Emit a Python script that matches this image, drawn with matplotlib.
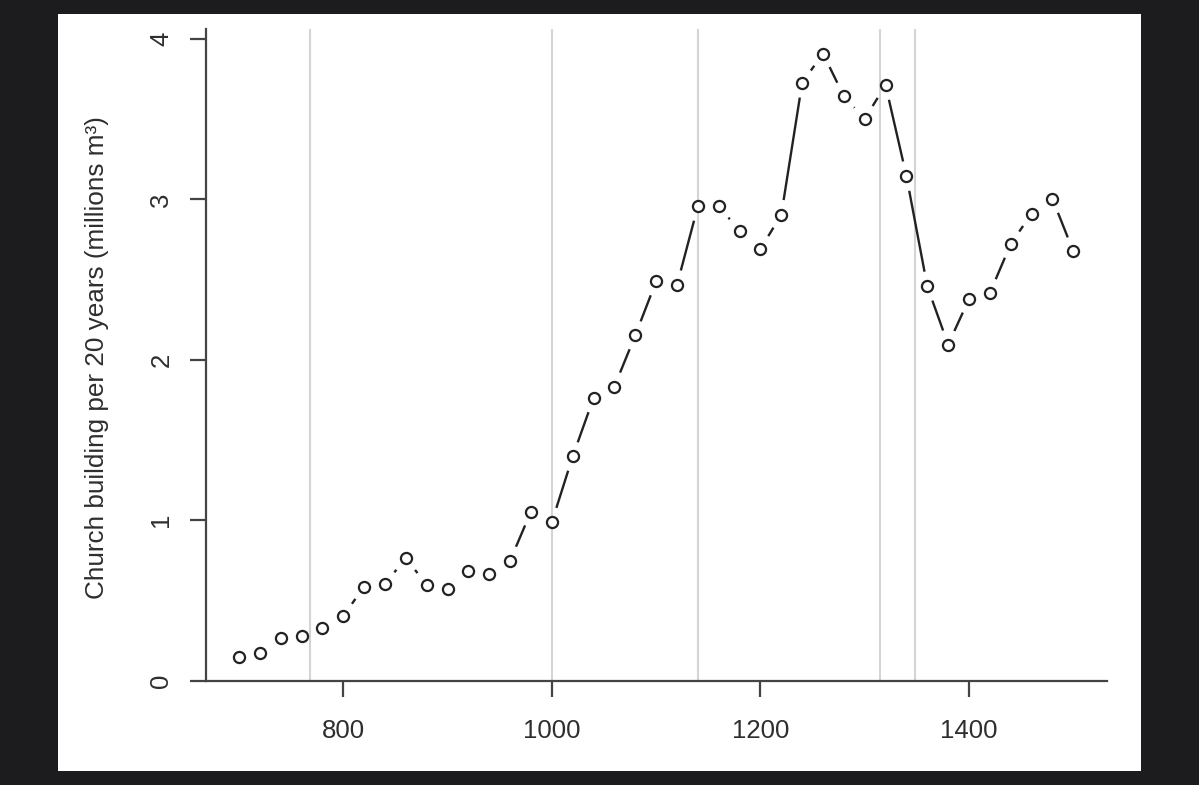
import matplotlib
matplotlib.use("Agg")
import matplotlib.pyplot as plt
from matplotlib.patches import Rectangle
import numpy as np

years = list(range(700, 1501, 20))
volume = [0.145, 0.173, 0.263, 0.278, 0.326, 0.402, 0.585, 0.602, 0.763, 0.596,
          0.571, 0.685, 0.665, 0.748, 1.053, 0.987, 1.397, 1.761, 1.833, 2.152,
          2.489, 2.466, 2.957, 2.957, 2.805, 2.691, 2.903, 3.727, 3.909, 3.643,
          3.502, 3.712, 3.145, 2.457, 2.094, 2.379, 2.416, 2.722, 2.911, 3.003,
          2.676]
event_years = [768, 1000, 1140, 1315, 1348]
x_ticks = [800, 1000, 1200, 1400]
y_ticks = [0, 1, 2, 3, 4]
y_label = "Church building per 20 years (millions m³)"

W, H = 1199, 785
plt.rcParams['font.family'] = ['Liberation Sans', 'DejaVu Sans']
fig = plt.figure(figsize=(W / 100, H / 100), dpi=100, facecolor='#1c1c1e')
fig.patches.append(Rectangle((58 / W, 1 - 771 / H), (1141 - 58) / W, (771 - 14) / H,
                             transform=fig.transFigure, facecolor='white',
                             edgecolor='none', zorder=-10))

ax = fig.add_axes([206 / W, 1 - 680.5 / H, (1107 - 206) / W, (680.5 - 29) / H])
ax.set_facecolor('white')
ax.set_xlim(668.4, 1532.3)
ax.set_ylim(0, 4.062)

txt = '#2e2e2e'
axc = '#444444'
for s in ['top', 'right']:
    ax.spines[s].set_visible(False)
for s in ['left', 'bottom']:
    ax.spines[s].set_color(axc)
    ax.spines[s].set_linewidth(1.6)

ax.set_xticks(x_ticks)
ax.set_yticks(y_ticks)
ax.set_xticklabels([str(v) for v in x_ticks])
ax.set_yticklabels([str(v) for v in y_ticks])
ax.tick_params(axis='both', direction='out', length=11.5, width=1.6, color=axc,
               labelsize=18.5, labelcolor=txt)
ax.tick_params(axis='x', pad=16)
ax.tick_params(axis='y', pad=12)
for lab in ax.get_yticklabels():
    lab.set_rotation(90)
    lab.set_va('center')
    lab.set_ha('right')

for ev in event_years:
    ax.axvline(ev, color='#d4d4d4', lw=1.5, zorder=1)

# type="b" style: lines with gaps around the points
fig.canvas.draw()
pts = ax.transData.transform(np.column_stack([years, volume]))
inv = ax.transData.inverted()
gap = 15.0
for i in range(len(pts) - 1):
    p0, p1 = pts[i], pts[i + 1]
    d = p1 - p0
    L = np.hypot(*d)
    if L > 2 * gap:
        u = d / L
        a = inv.transform(p0 + u * gap)
        b = inv.transform(p1 - u * gap)
        ax.plot([a[0], b[0]], [a[1], b[1]], color='#222222', lw=1.7,
                solid_capstyle='butt', zorder=2)

ax.plot(years, volume, linestyle='none', marker='o', ms=8, mfc='white',
        mec='#222222', mew=1.6, zorder=3)

ax.text((96.7 - 206) / (1107 - 206), 0.495, y_label, transform=ax.transAxes,
        rotation=90, ha='center', va='center', fontsize=18.8, color=txt)

fig.savefig('out.png', dpi=100, facecolor=fig.get_facecolor())
